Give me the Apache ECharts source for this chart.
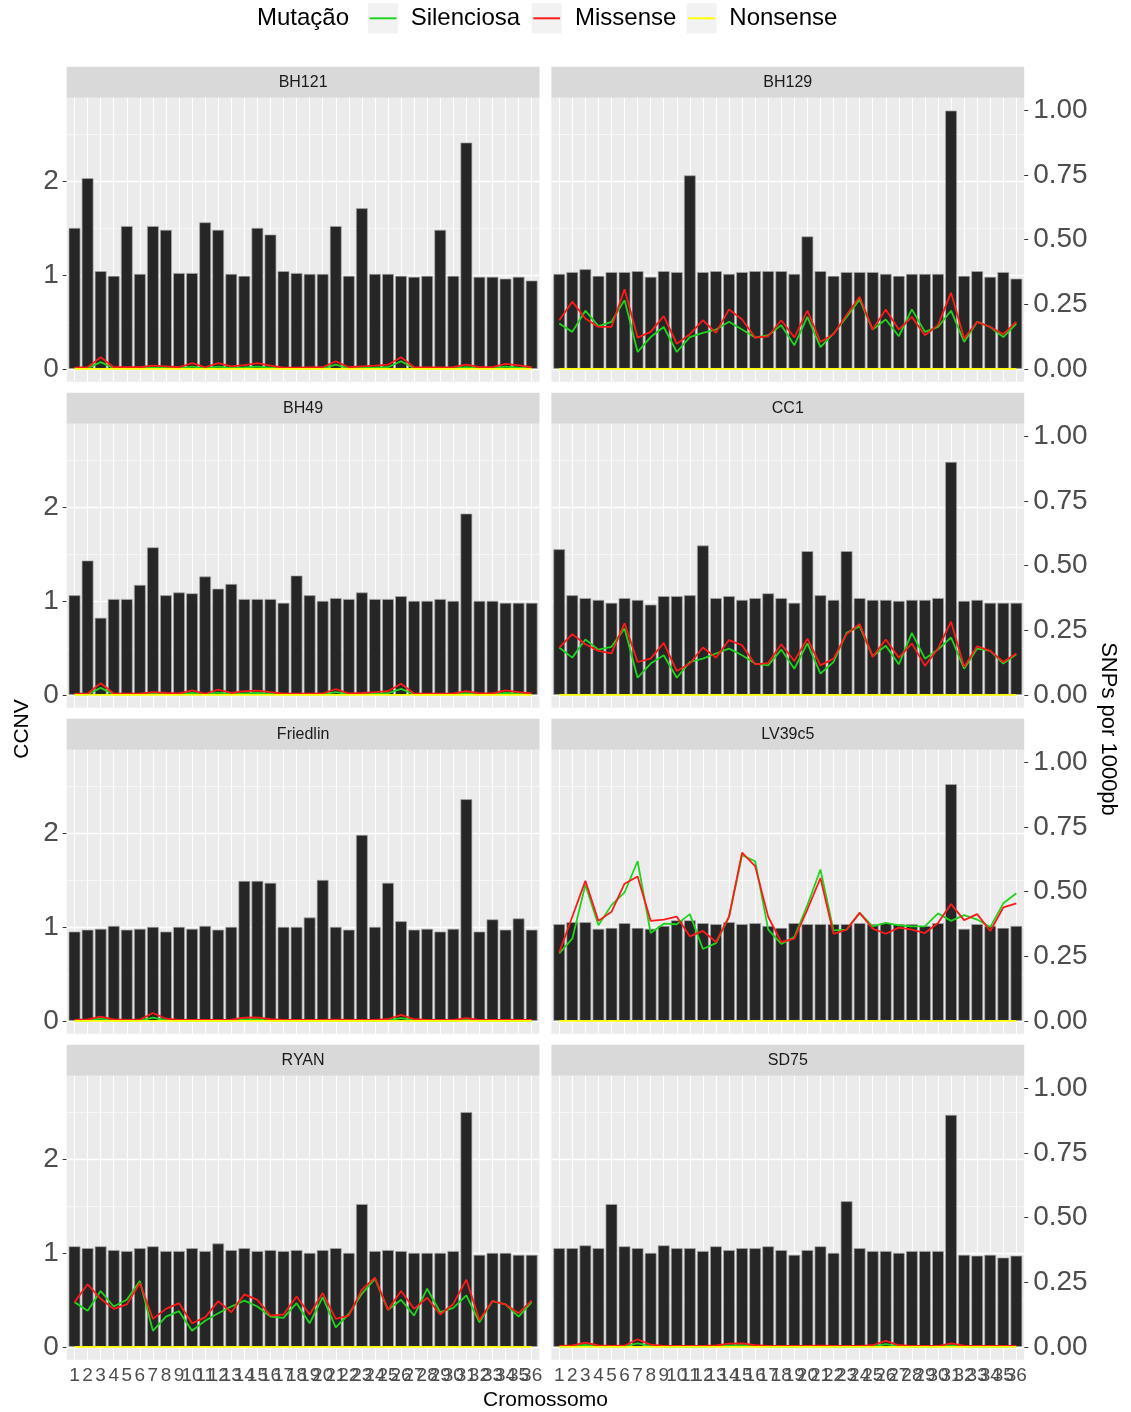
<!DOCTYPE html>
<html>
<head>
<meta charset="utf-8">
<title>CCNV e SNPs por cromossomo</title>
<script src="https://cdn.jsdelivr.net/npm/echarts@6.0.0/dist/echarts.min.js"></script>
<style>
  html, body { margin: 0; padding: 0; background: #ffffff; }
  #chart { width: 1131px; height: 1412px; }
</style>
</head>
<body>
<div id="chart"></div>
<script>
// ---- data -------------------------------------------------------------
const chromosomes = [1,2,3,4,5,6,7,8,9,10,11,12,13,14,15,16,17,18,19,20,21,22,23,24,25,26,27,28,29,30,31,32,33,34,35,36];
const strains = ['BH121', 'BH129', 'BH49', 'CC1', 'Friedlin', 'LV39c5', 'RYAN', 'SD75'];
const mutationTypes = ['Silenciosa', 'Missense', 'Nonsense'];

// copy-number (CCNV) per chromosome
const ccnv_BH121    = [1.50,2.03,1.04,0.99,1.52,1.01,1.52,1.48,1.02,1.02,1.56,1.48,1.01,0.99,1.50,1.43,1.04,1.02,1.01,1.01,1.52,0.99,1.71,1.01,1.01,0.99,0.98,0.99,1.48,0.99,2.41,0.98,0.98,0.96,0.98,0.94];
const ccnv_BH129    = [1.01,1.03,1.06,0.99,1.03,1.03,1.04,0.98,1.04,1.03,2.06,1.03,1.04,1.01,1.03,1.04,1.04,1.04,1.01,1.41,1.04,0.99,1.03,1.03,1.03,1.01,0.99,1.01,1.01,1.01,2.75,0.99,1.04,0.98,1.03,0.96];
const ccnv_BH49     = [1.06,1.43,0.82,1.02,1.02,1.17,1.57,1.06,1.09,1.08,1.26,1.13,1.18,1.02,1.02,1.02,0.98,1.27,1.06,1.00,1.03,1.02,1.09,1.02,1.02,1.05,1.00,1.00,1.02,1.00,1.93,1.00,1.00,0.98,0.98,0.98];
const ccnv_CC1      = [1.55,1.06,1.03,1.01,0.98,1.03,1.01,0.96,1.05,1.05,1.06,1.59,1.03,1.05,1.01,1.03,1.08,1.03,0.98,1.53,1.06,1.01,1.53,1.03,1.01,1.01,1.00,1.01,1.01,1.03,2.48,1.00,1.01,0.98,0.98,0.98];
const ccnv_Friedlin = [0.95,0.97,0.98,1.01,0.97,0.98,1.00,0.95,1.00,0.98,1.01,0.97,1.00,1.49,1.49,1.47,1.00,1.00,1.10,1.50,1.00,0.97,1.98,1.00,1.47,1.06,0.97,0.98,0.95,0.98,2.36,0.95,1.08,0.97,1.09,0.97];
const ccnv_LV39c5   = [1.03,1.05,1.05,0.98,0.99,1.04,0.99,0.98,1.01,1.07,1.07,1.04,1.03,1.05,1.03,1.04,1.01,0.99,1.04,1.03,1.03,1.03,1.03,1.04,1.03,1.04,1.03,1.03,1.01,1.04,2.52,0.98,1.03,1.01,0.99,1.01];
const ccnv_RYAN     = [1.07,1.05,1.07,1.03,1.02,1.05,1.07,1.02,1.02,1.05,1.02,1.10,1.03,1.05,1.02,1.03,1.02,1.03,1.00,1.03,1.05,1.00,1.52,1.02,1.03,1.02,1.00,1.00,1.00,1.02,2.50,0.98,1.00,1.00,0.98,0.98];
const ccnv_SD75     = [1.05,1.05,1.08,1.05,1.52,1.07,1.05,1.00,1.08,1.05,1.05,1.02,1.07,1.03,1.05,1.05,1.07,1.03,0.98,1.03,1.07,1.00,1.55,1.05,1.02,1.02,1.00,1.02,1.02,1.02,2.47,0.98,0.97,0.98,0.95,0.97];

// SNPs per 1000 bp, silent mutations
const silenciosa_BH121    = [0.002,0.002,0.026,0.002,0.002,0.002,0.004,0.003,0.002,0.008,0.002,0.008,0.003,0.005,0.008,0.004,0.002,0.002,0.002,0.002,0.016,0.002,0.003,0.004,0.006,0.029,0.002,0.002,0.002,0.002,0.006,0.002,0.002,0.008,0.004,0.002];
const silenciosa_BH129    = [0.175,0.143,0.225,0.165,0.182,0.266,0.065,0.123,0.162,0.065,0.123,0.139,0.152,0.182,0.152,0.121,0.130,0.169,0.091,0.201,0.084,0.136,0.201,0.269,0.152,0.191,0.126,0.230,0.143,0.162,0.225,0.104,0.182,0.162,0.123,0.175];
const silenciosa_BH49     = [0.002,0.002,0.027,0.002,0.002,0.002,0.004,0.003,0.002,0.007,0.002,0.008,0.003,0.005,0.007,0.004,0.002,0.002,0.002,0.002,0.010,0.002,0.003,0.004,0.006,0.023,0.002,0.002,0.002,0.002,0.006,0.002,0.002,0.007,0.004,0.002];
const silenciosa_CC1      = [0.183,0.144,0.214,0.175,0.186,0.257,0.066,0.121,0.153,0.066,0.127,0.140,0.160,0.179,0.153,0.121,0.114,0.175,0.101,0.199,0.082,0.127,0.240,0.266,0.149,0.190,0.118,0.240,0.140,0.175,0.222,0.101,0.179,0.170,0.121,0.157];
const silenciosa_Friedlin = [0.001,0.002,0.008,0.002,0.001,0.002,0.012,0.003,0.001,0.001,0.001,0.001,0.002,0.005,0.006,0.002,0.001,0.001,0.001,0.001,0.002,0.001,0.001,0.001,0.002,0.010,0.002,0.001,0.001,0.001,0.004,0.001,0.001,0.001,0.001,0.001];
const silenciosa_LV39c5   = [0.261,0.318,0.527,0.370,0.448,0.497,0.618,0.340,0.376,0.374,0.413,0.278,0.301,0.403,0.641,0.618,0.353,0.298,0.324,0.448,0.586,0.350,0.353,0.418,0.366,0.379,0.370,0.366,0.366,0.416,0.387,0.409,0.392,0.363,0.455,0.494];
const silenciosa_RYAN     = [0.173,0.140,0.216,0.156,0.182,0.255,0.062,0.117,0.138,0.062,0.101,0.130,0.156,0.179,0.156,0.117,0.112,0.169,0.091,0.192,0.075,0.127,0.205,0.264,0.143,0.182,0.121,0.225,0.134,0.151,0.199,0.095,0.177,0.164,0.117,0.173];
const silenciosa_SD75     = [0.001,0.002,0.007,0.002,0.001,0.002,0.013,0.003,0.001,0.001,0.001,0.001,0.002,0.005,0.006,0.002,0.001,0.001,0.001,0.001,0.002,0.001,0.001,0.001,0.002,0.010,0.002,0.001,0.001,0.001,0.005,0.001,0.001,0.001,0.001,0.001];

// SNPs per 1000 bp, missense mutations
const missense_BH121    = [0.004,0.006,0.045,0.006,0.006,0.006,0.012,0.009,0.006,0.022,0.006,0.022,0.009,0.014,0.022,0.012,0.004,0.004,0.005,0.006,0.029,0.006,0.009,0.012,0.016,0.045,0.006,0.005,0.005,0.006,0.016,0.006,0.006,0.019,0.013,0.006];
const missense_BH129    = [0.188,0.260,0.195,0.162,0.162,0.308,0.121,0.143,0.204,0.097,0.134,0.188,0.139,0.230,0.191,0.121,0.126,0.188,0.121,0.225,0.104,0.134,0.208,0.279,0.152,0.230,0.152,0.201,0.130,0.169,0.295,0.117,0.182,0.162,0.134,0.182];
const missense_BH49     = [0.004,0.004,0.045,0.005,0.004,0.004,0.010,0.007,0.005,0.017,0.004,0.020,0.007,0.014,0.016,0.010,0.004,0.004,0.004,0.005,0.022,0.005,0.007,0.010,0.014,0.043,0.005,0.004,0.004,0.005,0.014,0.005,0.005,0.017,0.010,0.005];
const missense_CC1      = [0.183,0.235,0.196,0.170,0.160,0.277,0.127,0.140,0.201,0.092,0.121,0.183,0.144,0.212,0.192,0.118,0.123,0.196,0.131,0.217,0.114,0.140,0.235,0.274,0.147,0.214,0.144,0.199,0.112,0.179,0.283,0.108,0.188,0.170,0.127,0.160];
const missense_Friedlin = [0.003,0.005,0.016,0.005,0.003,0.004,0.030,0.008,0.003,0.003,0.003,0.003,0.004,0.012,0.013,0.006,0.003,0.003,0.003,0.003,0.004,0.003,0.003,0.003,0.006,0.023,0.006,0.003,0.003,0.003,0.010,0.003,0.003,0.003,0.003,0.003];
const missense_LV39c5   = [0.265,0.403,0.542,0.387,0.422,0.531,0.559,0.387,0.392,0.403,0.327,0.348,0.305,0.403,0.651,0.599,0.403,0.305,0.318,0.431,0.553,0.337,0.353,0.418,0.357,0.337,0.361,0.353,0.340,0.379,0.452,0.390,0.413,0.348,0.439,0.455];
const missense_RYAN     = [0.173,0.242,0.186,0.147,0.164,0.247,0.108,0.147,0.169,0.091,0.114,0.177,0.134,0.203,0.182,0.121,0.125,0.195,0.125,0.208,0.108,0.121,0.221,0.268,0.143,0.216,0.147,0.190,0.125,0.166,0.260,0.104,0.177,0.164,0.130,0.179];
const missense_SD75     = [0.003,0.005,0.016,0.005,0.003,0.004,0.029,0.008,0.003,0.003,0.003,0.003,0.005,0.012,0.013,0.006,0.003,0.003,0.003,0.003,0.004,0.003,0.003,0.003,0.006,0.023,0.006,0.003,0.003,0.003,0.013,0.004,0.003,0.003,0.003,0.003];

// SNPs per 1000 bp, nonsense mutations
const nonsense_BH121    = [0,0,0,0,0,0,0,0,0,0,0,0,0,0,0,0,0,0,0,0,0,0,0,0,0,0,0,0,0,0,0,0,0,0,0,0];
const nonsense_BH129    = [0,0,0,0,0,0,0,0,0,0,0,0,0,0,0,0,0,0,0,0,0,0,0,0,0,0,0,0,0,0,0,0,0,0,0,0];
const nonsense_BH49     = [0,0,0,0,0,0,0,0,0,0,0,0,0,0,0,0,0,0,0,0,0,0,0,0,0,0,0,0,0,0,0,0,0,0,0,0];
const nonsense_CC1      = [0,0,0,0,0,0,0,0,0,0,0,0,0,0,0,0,0,0,0,0,0,0,0,0,0,0,0,0,0,0,0,0,0,0,0,0];
const nonsense_Friedlin = [0,0,0,0,0,0,0,0,0,0,0,0,0,0,0,0,0,0,0,0,0,0,0,0,0,0,0,0,0,0,0,0,0,0,0,0];
const nonsense_LV39c5   = [0,0,0,0,0,0,0,0,0,0,0,0,0,0,0,0,0,0,0,0,0,0,0,0,0,0,0,0,0,0,0,0,0,0,0,0];
const nonsense_RYAN     = [0,0,0,0,0,0,0,0,0,0,0,0,0,0,0,0,0,0,0,0,0,0,0,0,0,0,0,0,0,0,0,0,0,0,0,0];
const nonsense_SD75     = [0,0,0,0,0,0,0,0,0,0,0,0,0,0,0,0,0,0,0,0,0,0,0,0,0,0,0,0,0,0,0,0,0,0,0,0];

// axis breaks
const ccnvTicks = [0, 1, 2];
const ccnvMinorTicks = [0.5, 1.5, 2.5];
const snpTicks = [0, 0.25, 0.5, 0.75, 1];

// ---- assembly ---------------------------------------------------------
const ccnvByStrain = { BH121: ccnv_BH121, BH129: ccnv_BH129, BH49: ccnv_BH49, CC1: ccnv_CC1,
  Friedlin: ccnv_Friedlin, LV39c5: ccnv_LV39c5, RYAN: ccnv_RYAN, SD75: ccnv_SD75 };
const snpByStrain = {
  BH121:    [silenciosa_BH121, missense_BH121, nonsense_BH121],
  BH129:    [silenciosa_BH129, missense_BH129, nonsense_BH129],
  BH49:     [silenciosa_BH49, missense_BH49, nonsense_BH49],
  CC1:      [silenciosa_CC1, missense_CC1, nonsense_CC1],
  Friedlin: [silenciosa_Friedlin, missense_Friedlin, nonsense_Friedlin],
  LV39c5:   [silenciosa_LV39c5, missense_LV39c5, nonsense_LV39c5],
  RYAN:     [silenciosa_RYAN, missense_RYAN, nonsense_RYAN],
  SD75:     [silenciosa_SD75, missense_SD75, nonsense_SD75]
};

const FONT = "'Liberation Sans', Arial, Helvetica, sans-serif";
const lineColors = ['#1FD41F', '#FF1A1A', '#FFFF00'];

// facet geometry
const PANEL_W = 472.8, PANEL_H = 284;
const COL_X = [66.7, 551.4];
const ROW_TOP = 97.7, ROW_STEP = 326, STRIP_H = 31;
const X_MIN = 0.4, X_MAX = 36.6;

// x labels overlap on purpose (all 36 are printed); the first chromosome is
// listed last so the axis' end-label overlap check never drops one of them
const xLabelValues = chromosomes.slice(1).concat(chromosomes.slice(0, 1));

// the secondary axis is the CCNV axis divided by the largest CCNV value
const ccnvMax = Math.max(...strains.map(s => Math.max(...ccnvByStrain[s])));
const pad = 0.05;

const grids = [], xAxes = [], yAxes = [], series = [], graphics = [];

strains.forEach((name, i) => {
  const row = Math.floor(i / 2), col = i % 2;
  const top = ROW_TOP + row * ROW_STEP;
  const left = COL_X[col];
  const bottomRow = row === 3;

  grids.push({
    left: left, top: top, width: PANEL_W, height: PANEL_H,
    show: true, backgroundColor: '#EBEBEB', borderWidth: 0,
    containLabel: false, outerBoundsMode: 'none'
  });

  xAxes.push({
    gridIndex: i, type: 'value', min: X_MIN, max: X_MAX,
    axisLine: { show: false }, splitLine: { show: false },
    axisTick: { show: bottomRow, customValues: chromosomes, length: 4,
                lineStyle: { color: '#333333', width: 1 } },
    axisLabel: { show: bottomRow, customValues: xLabelValues, fontSize: 19, color: '#4D4D4D',
                 fontFamily: FONT, margin: 7, hideOverlap: false,
                 formatter: v => String(v) }
  });

  yAxes.push({
    gridIndex: i, type: 'value',
    min: -pad * ccnvMax, max: (1 + pad) * ccnvMax,
    axisLine: { show: false }, splitLine: { show: false },
    axisTick: { show: col === 0, customValues: ccnvTicks, length: 4,
                lineStyle: { color: '#333333', width: 1 } },
    axisLabel: { show: col === 0, customValues: ccnvTicks, fontSize: 28, color: '#4D4D4D',
                 fontFamily: FONT, margin: 8, showMinLabel: true, showMaxLabel: true,
                 formatter: v => String(v) }
  });
  yAxes.push({
    gridIndex: i, type: 'value', position: 'right',
    min: -pad, max: 1 + pad,
    axisLine: { show: false }, splitLine: { show: false },
    axisTick: { show: col === 1, customValues: snpTicks, length: 4,
                lineStyle: { color: '#333333', width: 1 } },
    axisLabel: { show: col === 1, customValues: snpTicks, fontSize: 28, color: '#4D4D4D',
                 fontFamily: FONT, margin: 9, showMinLabel: true, showMaxLabel: true,
                 formatter: v => v.toFixed(2) }
  });

  // panel grid lines (behind the bars)
  const gridLines = [];
  ccnvTicks.forEach(v => gridLines.push({ yAxis: v, lineStyle: { color: '#FFFFFF', width: 1.3, type: 'solid' } }));
  ccnvMinorTicks.forEach(v => gridLines.push({ yAxis: v, lineStyle: { color: '#FFFFFF', width: 0.6, type: 'solid' } }));
  chromosomes.forEach(v => gridLines.push({ xAxis: v, lineStyle: { color: '#FFFFFF', width: 1.1, type: 'solid' } }));
  series.push({
    type: 'line', name: 'grid-' + name, xAxisIndex: i, yAxisIndex: 2 * i,
    data: [], z: 1, silent: true, animation: false,
    markLine: { z: 1, silent: true, symbol: ['none', 'none'], label: { show: false },
                animation: false, data: gridLines }
  });

  // CCNV bars
  const ccnv = ccnvByStrain[name];
  series.push({
    type: 'bar', name: 'CCNV ' + name, xAxisIndex: i, yAxisIndex: 2 * i,
    data: chromosomes.map((c, k) => [c, ccnv[k]]),
    barWidth: PANEL_W / (X_MAX - X_MIN) * 0.9,
    itemStyle: { color: '#262626', borderColor: '#A8A8A8', borderWidth: 0.7 },
    z: 2, animation: false, silent: true
  });

  // SNP lines
  snpByStrain[name].forEach((vals, m) => {
    series.push({
      type: 'line', name: mutationTypes[m], xAxisIndex: i, yAxisIndex: 2 * i + 1,
      data: chromosomes.map((c, k) => [c, vals[k]]),
      showSymbol: false, symbol: 'none',
      lineStyle: { color: lineColors[m], width: 1.8 },
      itemStyle: { color: lineColors[m] },
      z: 3 + m, animation: false, silent: true
    });
  });

  // facet strip
  const stripTop = top - STRIP_H;
  graphics.push({ type: 'rect', silent: true,
    shape: { x: left, y: stripTop, width: PANEL_W, height: STRIP_H },
    style: { fill: '#D9D9D9' } });
  graphics.push({ type: 'text', silent: true, x: left + PANEL_W / 2, y: stripTop + STRIP_H / 2 + 0.5,
    style: { text: name, fill: '#1A1A1A', font: '16px ' + FONT,
             align: 'center', verticalAlign: 'middle', textAlign: 'center', textVerticalAlign: 'middle' } });
});

// legend
const LEG_Y = 18.6;
graphics.push({ type: 'text', silent: true, x: 257, y: LEG_Y,
  style: { text: 'Mutação', fill: '#000000', font: '24px ' + FONT,
           align: 'left', verticalAlign: 'middle', textAlign: 'left', textVerticalAlign: 'middle' } });
const keyX = [368, 531.7, 686.7];
const keyTextX = [410.7, 575, 729.3];
mutationTypes.forEach((t, m) => {
  graphics.push({ type: 'rect', silent: true,
    shape: { x: keyX[m], y: 3.3, width: 30, height: 30 }, style: { fill: '#F2F2F2' } });
  graphics.push({ type: 'line', silent: true,
    shape: { x1: keyX[m] + 1.6, y1: LEG_Y - 0.3, x2: keyX[m] + 28.4, y2: LEG_Y - 0.3 },
    style: { stroke: lineColors[m], lineWidth: 2 } });
  graphics.push({ type: 'text', silent: true, x: keyTextX[m], y: LEG_Y,
    style: { text: t, fill: '#000000', font: '24px ' + FONT,
             align: 'left', verticalAlign: 'middle', textAlign: 'left', textVerticalAlign: 'middle' } });
});

// axis titles
graphics.push({ type: 'text', silent: true, x: 22, y: 729, rotation: Math.PI / 2,
  style: { text: 'CCNV', fill: '#000000', font: '21px ' + FONT,
           align: 'center', verticalAlign: 'middle', textAlign: 'center', textVerticalAlign: 'middle' } });
graphics.push({ type: 'text', silent: true, x: 1108, y: 729, rotation: -Math.PI / 2,
  style: { text: 'SNPs por 1000pb', fill: '#000000', font: '22px ' + FONT,
           align: 'center', verticalAlign: 'middle', textAlign: 'center', textVerticalAlign: 'middle' } });
graphics.push({ type: 'text', silent: true, x: 545.5, y: 1400,
  style: { text: 'Cromossomo', fill: '#000000', font: '21px ' + FONT,
           align: 'center', verticalAlign: 'middle', textAlign: 'center', textVerticalAlign: 'middle' } });

const chart = echarts.init(document.getElementById('chart'), null, { renderer: 'canvas' });
chart.setOption({
  backgroundColor: '#FFFFFF',
  animation: false,
  textStyle: { fontFamily: FONT },
  tooltip: { show: false },
  legend: { show: false },
  grid: grids,
  xAxis: xAxes,
  yAxis: yAxes,
  series: series,
  graphic: graphics
});
</script>
</body>
</html>
